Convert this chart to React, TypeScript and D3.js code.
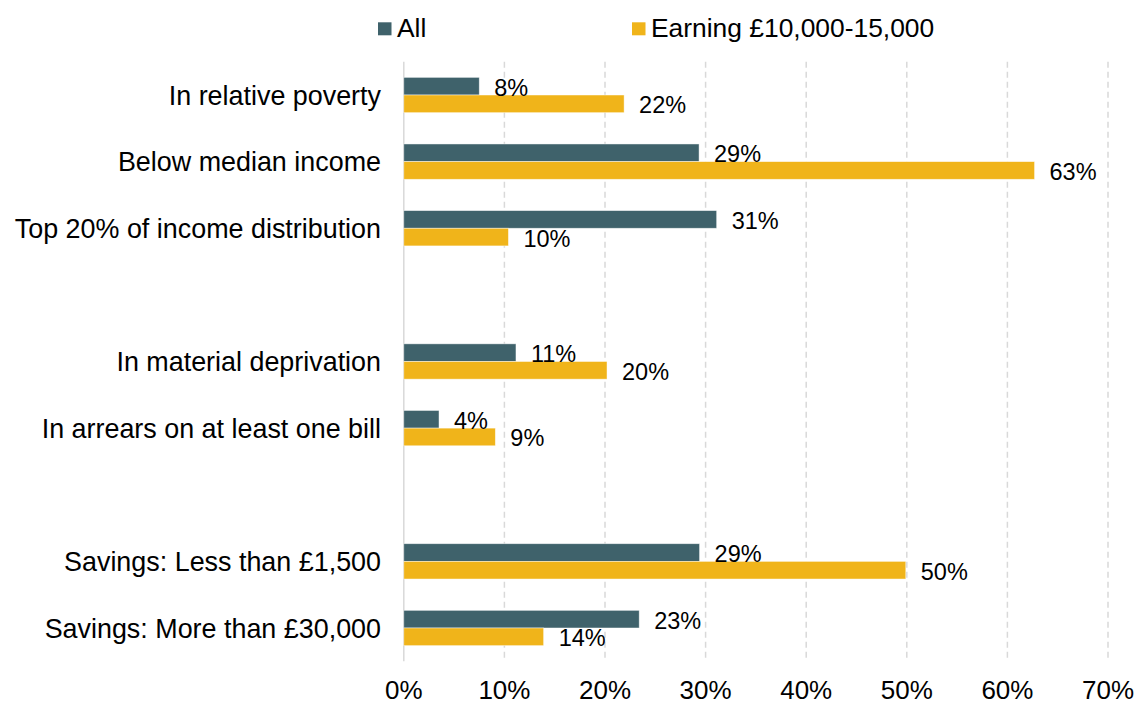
import React from "react";
import * as d3 from "d3";

const categories = [
  "In relative poverty",
  "Below median income",
  "Top 20% of income distribution",
  "",
  "In material deprivation",
  "In arrears on at least one bill",
  " ",
  "Savings: Less than £1,500",
  "Savings: More than £30,000",
];
const allValues: (number | null)[] = [7.5, 29.35, 31.1, null, 11.15, 3.5, null, 29.4, 23.4];
const earningValues: (number | null)[] = [21.9, 62.7, 10.4, null, 20.2, 9.1, null, 49.9, 13.9];
const seriesNames = ["All", "Earning £10,000-15,000"];
const seriesColors = ["#3F626B", "#F0B41A"];
const xTicks = [0, 10, 20, 30, 40, 50, 60, 70];

const W = 1138;
const H = 704;
const FONT = "'Liberation Sans', Arial, Helvetica, sans-serif";

export default function App() {
  const x = d3.scaleLinear().domain([0, 70]).range([403.8, 1108]);
  const y = d3.scaleBand<string>().domain(categories).range([61.7, 661.3]).paddingInner(0).paddingOuter(0);
  const band = y.bandwidth();
  const barH = band * 0.265;
  const series = [allValues, earningValues];

  return (
    <svg
      width={W}
      height={H}
      style={{ position: "absolute", left: 0, top: 0, background: "#fff" }}
      fontFamily={FONT}
    >
      {/* gridlines */}
      {xTicks.slice(1).map((t) => (
        <line
          key={"g" + t}
          x1={x(t)}
          x2={x(t)}
          y1={61.7}
          y2={661.3}
          stroke="#D9D9D9"
          strokeWidth={1.5}
          strokeDasharray="6,4"
        />
      ))}
      <line x1={x(0)} x2={x(0)} y1={61.7} y2={661.3} stroke="#D9D9D9" strokeWidth={1.5} />

      {/* bars */}
      {series.map((vals, si) =>
        vals.map((v, i) => {
          if (v == null) return null;
          const cy = (y(categories[i]) as number) + band / 2;
          const top = si === 0 ? cy - barH : cy;
          return (
            <rect
              key={`b${si}-${i}`}
              x={x(0)}
              y={top}
              width={x(v) - x(0)}
              height={barH}
              fill={seriesColors[si]}
              stroke="rgba(255,255,255,0.6)"
              strokeWidth={0.75}
            />
          );
        })
      )}

      {/* data labels */}
      {series.map((vals, si) =>
        vals.map((v, i) => {
          if (v == null) return null;
          const cy = (y(categories[i]) as number) + band / 2;
          const mid = si === 0 ? cy - barH / 2 : cy + barH / 2;
          return (
            <text
              key={`l${si}-${i}`}
              x={x(v) + 15}
              y={mid + 1 + 23.5 * 0.36}
              fontSize={23.5}
              fill="#000"
            >
              {Math.round(v) + "%"}
            </text>
          );
        })
      )}

      {/* category labels */}
      {categories.map((c, i) =>
        c.trim() === "" ? null : (
          <text
            key={"c" + i}
            x={381}
            y={(y(c) as number) + band / 2 + 26.9 * 0.36}
            fontSize={26.9}
            textAnchor="end"
            fill="#000"
          >
            {c}
          </text>
        )
      )}

      {/* x tick labels */}
      {xTicks.map((t) => (
        <text key={"t" + t} x={x(t)} y={698.5} fontSize={26} textAnchor="middle" fill="#000">
          {t + "%"}
        </text>
      ))}

      {/* legend */}
      {seriesNames.map((n, i) => {
        const lx = i === 0 ? 378 : 632;
        return (
          <g key={"lg" + i}>
            <rect x={lx} y={22.3} width={13.5} height={13} fill={seriesColors[i]} />
            <text x={lx + 19} y={37} fontSize={26.4} fill="#000">
              {n}
            </text>
          </g>
        );
      })}
    </svg>
  );
}
